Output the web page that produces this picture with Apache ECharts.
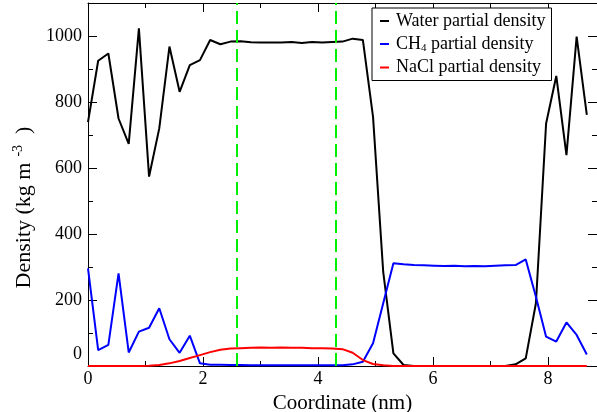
<!DOCTYPE html>
<html>
<head>
<meta charset="utf-8">
<script src="https://cdn.jsdelivr.net/npm/echarts@6/dist/echarts.min.js"></script>
<style>html,body{margin:0;padding:0;background:#fff}#c{width:597px;height:412px}</style>
</head>
<body>
<div id="c"></div>
<script>
const coordinate = [0.000,0.177,0.354,0.531,0.708,0.885,1.062,1.239,1.416,1.593,1.770,1.947,2.124,2.301,2.478,2.655,2.832,3.009,3.186,3.363,3.540,3.717,3.894,4.071,4.248,4.425,4.602,4.779,4.956,5.133,5.310,5.487,5.664,5.841,6.018,6.195,6.372,6.549,6.726,6.903,7.080,7.257,7.434,7.611,7.788,7.965,8.142,8.319,8.496,8.673];
const water = [739,925,947,750,673,1023,574,720,968,831,912,927,988,975,983,984,981,980,980,980,982,979,982,980,982,983,992,988,755,285,38,3,0,0,0,0,0,0,0,0,0,0,5,23,190,735,879,639,998,761];
const ch4 = [296,48,64,281,41,104,116,175,81,40,92,8,4,4,3,3,2,2,2,2,2,2,2,2,2,2,5,13,69,190,311,308,306,305,304,303,304,302,303,302,304,305,306,323,210,89,74,132,94,35];
const nacl = [0,0,0,0,0,0,1,3,8,15,24,33,42,49,53,54,55,56,55,56,55,55,54,54,53,51,40,18,6,2,0,0,0,0,0,0,0,0,0,0,0,0,0,0,0,0,0,0,0,0];
const markers = [2.59, 4.30];
const seriesNames = ['Water partial density','CH4 partial density','NaCl partial density'];
const seriesColors = ['#000000','#0000ff','#ff0000'];
const xTicks = {min:0, max:8.85, interval:2};
const yTicks = {min:0, max:1100, interval:200};

const FONT = "'Liberation Serif','Times New Roman',serif";
function pairs(ys){ return coordinate.map((x,i)=>[x,ys[i]]); }

const chart = echarts.init(document.getElementById('c'), null, {renderer:'canvas'});
const tickCommon = {
  axisLine:{show:true, onZero:false, lineStyle:{color:'#000', width:1}},
  axisTick:{show:true, inside:true, length:9, lineStyle:{color:'#000', width:1}},
  minorTick:{show:true, splitNumber:2, length:5, lineStyle:{color:'#000', width:1}},
  splitLine:{show:false}
};
const option = {
  animation:false,
  backgroundColor:'#fff',
  grid:{left:88, right:0, top:3, bottom:46, containLabel:false, outerBoundsMode:'none'},
  legend:{
    orient:'vertical', left:372, top:8,
    backgroundColor:'#fff', borderColor:'#000', borderWidth:1,
    padding:[4,6,4,8], itemGap:5,
    itemWidth:9, itemHeight:2, icon:'rect',
    data: seriesNames,
    formatter: function(n){
      if (n.indexOf('CH4')===0) return '{n|CH}{s|4}{n| partial density}';
      return '{n|'+n+'}';
    },
    textStyle:{fontFamily:FONT, fontSize:18, color:'#000', padding:[0,0,0,2],
      rich:{n:{fontFamily:FONT, fontSize:18, lineHeight:19, color:'#000'},
            s:{fontFamily:FONT, fontSize:11, lineHeight:8, verticalAlign:'bottom', color:'#000'}}}
  },
  xAxis:[
    Object.assign({type:'value', position:'bottom', min:xTicks.min, max:xTicks.max, interval:xTicks.interval,
      name:'Coordinate (nm)', nameLocation:'middle', nameGap:19,
      nameTextStyle:{fontFamily:FONT, fontSize:21, color:'#000'},
      axisLabel:{show:true, margin:4, fontFamily:FONT, fontSize:18, color:'#000', showMaxLabel:false}}, tickCommon),
    Object.assign({type:'value', position:'top', min:xTicks.min, max:xTicks.max, interval:xTicks.interval,
      axisLabel:{show:false}}, tickCommon)
  ],
  yAxis:[
    Object.assign({type:'value', position:'left', min:yTicks.min, max:yTicks.max, interval:yTicks.interval,
      name:'{n|Density (kg m}{p|-3}{n|  )}', nameLocation:'middle', nameGap:40,
      nameTextStyle:{fontFamily:FONT, fontSize:22, color:'#000', padding:[0,46,0,0],
        rich:{n:{fontFamily:FONT, fontSize:22, lineHeight:25, color:'#000'},
              p:{fontFamily:FONT, fontSize:14, lineHeight:12, verticalAlign:'top', padding:[0,0,0,6], color:'#000'}}},
      axisLabel:{show:true, margin:6, fontFamily:FONT, fontSize:18, color:'#000', showMaxLabel:false,
        formatter:function(v){ return v===0 ? '{z|0}' : String(v); },
        rich:{z:{fontFamily:FONT, fontSize:18, color:'#000', padding:[0,0,24,0]}}}}, tickCommon),
    Object.assign({type:'value', position:'right', min:yTicks.min, max:yTicks.max, interval:yTicks.interval,
      axisLabel:{show:false}}, tickCommon)
  ],
  series:[
    {name:seriesNames[0], type:'line', data:pairs(water), showSymbol:false, symbol:'none',
      lineStyle:{color:seriesColors[0], width:2}, itemStyle:{color:seriesColors[0]},
      markLine:{silent:true, symbol:'none', label:{show:false},
        lineStyle:{color:'#00ee00', width:2, type:[13,6]},
        data: markers.map(v=>({xAxis:v}))}},
    {name:seriesNames[1], type:'line', data:pairs(ch4), showSymbol:false, symbol:'none',
      lineStyle:{color:seriesColors[1], width:2}, itemStyle:{color:seriesColors[1]}},
    {name:seriesNames[2], type:'line', data:pairs(nacl), showSymbol:false, symbol:'none',
      lineStyle:{color:seriesColors[2], width:2}, itemStyle:{color:seriesColors[2]}}
  ]
};
chart.setOption(option);
</script>
</body>
</html>
